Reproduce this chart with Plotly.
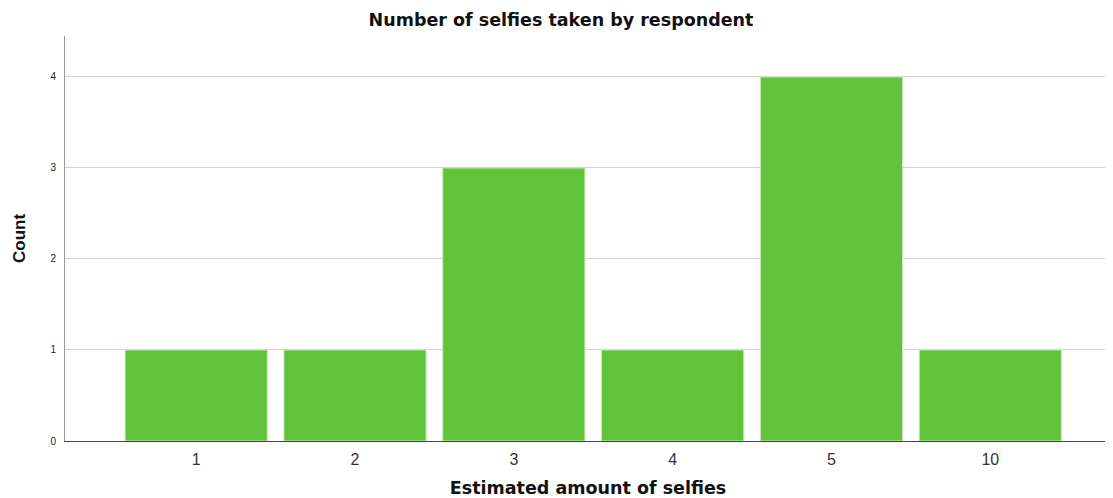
import plotly.graph_objects as go

categories = ["1", "2", "3", "4", "5", "10"]
counts = [1, 1, 3, 1, 4, 1]
y_ticks = [0, 1, 2, 3, 4]

# page body has an 8px default margin, so the figure is sized to fit the 1113x498 window
W, H = 1105, 490

fig = go.Figure()
fig.add_trace(go.Bar(
    x=categories, y=counts,
    marker=dict(color="#60c43a", line=dict(color="#c9e9bd", width=1)),
))

fig.update_layout(
    width=W, height=H,
    margin=dict(l=57, r=2, t=28, b=57),
    paper_bgcolor="white", plot_bgcolor="white",
    bargap=0.105,
    showlegend=False,
    font=dict(family="Liberation Sans, Arial, sans-serif", color="#222"),
    title=dict(text="<b>Number of selfies taken by respondent</b>",
               x=(561 - 8) / W, xanchor="center", y=1 - 12 / H, yanchor="middle",
               font=dict(family="DejaVu Sans", size=17.5, color="#111")),
)
fig.update_xaxes(
    type="category", range=[-0.826, 5.76],
    showline=True, linecolor="#444", linewidth=1,
    showgrid=False, ticks="", ticklabelstandoff=4,
    tickfont=dict(size=16, color="#333"),
    automargin=False,
    title=dict(text="<b>Estimated amount of selfies</b>",
               font=dict(family="DejaVu Sans", size=17.5, color="#111"), standoff=18),
)
fig.update_yaxes(
    range=[0, 4.45], tickvals=y_ticks,
    showline=True, linecolor="#999", linewidth=1,
    showgrid=True, gridcolor="#d4d4d4", gridwidth=1,
    zeroline=False, automargin=False,
    ticks="", ticklabelstandoff=6, tickfont=dict(size=10, color="#222"),
    title=dict(text="<b>Count</b>",
               font=dict(family="Liberation Sans Narrow, Liberation Sans", size=17, color="#111"),
               standoff=20),
)

fig.write_html("out.html")
